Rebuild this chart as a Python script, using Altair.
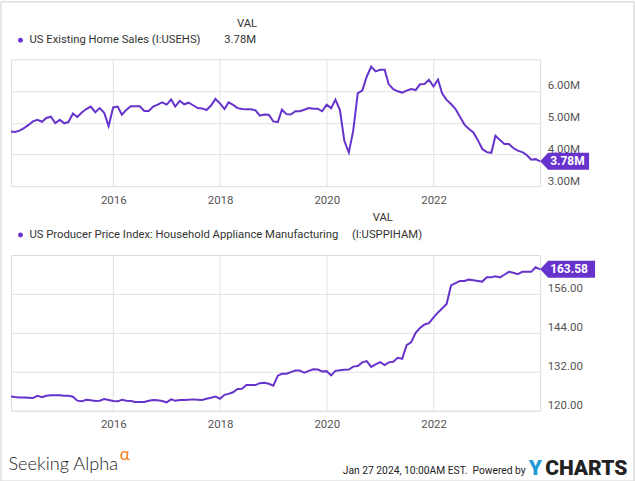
import altair as alt
import pandas as pd

# ---------------- data ----------------
years = list(range(2014, 2024))
months = []
for y in years:
    for m in range(1, 13):
        d = pd.Timestamp(year=y, month=m, day=1) + pd.offsets.MonthEnd(0)
        months.append(d.strftime("%Y-%m-%d"))

# US Existing Home Sales, millions (Jan 2014 .. Dec 2023)
home_sales = [
    4.72, 4.71, 4.75, 4.83, 4.93, 5.04, 5.09, 5.03, 5.15, 5.19, 4.99, 5.09,
    4.98, 5.02, 5.29, 5.18, 5.32, 5.43, 5.51, 5.33, 5.46, 5.31, 4.89, 5.48,
    5.51, 5.25, 5.41, 5.52, 5.52, 5.52, 5.37, 5.37, 5.51, 5.57, 5.64, 5.57,
    5.73, 5.51, 5.69, 5.58, 5.63, 5.55, 5.46, 5.45, 5.40, 5.54, 5.75, 5.61,
    5.43, 5.64, 5.56, 5.46, 5.43, 5.42, 5.42, 5.39, 5.22, 5.26, 5.25, 5.04,
    5.02, 5.41, 5.27, 5.26, 5.36, 5.36, 5.41, 5.46, 5.44, 5.44, 5.36, 5.57,
    5.46, 5.73, 5.40, 4.43, 4.06, 4.75, 5.93, 6.01, 6.45, 6.77, 6.62, 6.67,
    6.67, 6.21, 6.06, 5.99, 5.95, 6.01, 6.06, 6.03, 6.21, 6.22, 6.35, 6.14,
    6.36, 5.93, 5.72, 5.59, 5.43, 5.19, 4.94, 4.80, 4.69, 4.45, 4.17, 4.07,
    4.05, 4.59, 4.45, 4.33, 4.33, 4.20, 4.12, 4.07, 3.98, 3.83, 3.85, 3.78,
]

# US PPI: Household Appliance Manufacturing (Jan 2014 .. Dec 2023)
ppi = [
    124.4, 124.2, 124.1, 124.1, 124.0, 123.9, 124.6, 124.2, 124.6, 124.8, 124.8, 124.8,
    124.6, 124.6, 124.3, 123.1, 122.9, 123.4, 123.2, 123.0, 123.1, 123.6, 123.3, 123.0,
    122.9, 123.4, 123.1, 123.0, 122.7, 122.7, 122.7, 123.1, 123.3, 123.2, 123.0, 122.6,
    123.5, 123.1, 123.3, 123.3, 123.4, 123.5, 123.4, 123.3, 123.7, 124.0, 124.4, 123.7,
    124.9, 125.2, 125.7, 126.7, 126.8, 127.9, 127.9, 127.9, 128.5, 128.6, 128.3, 127.7,
    130.8, 131.4, 131.4, 131.9, 132.4, 132.4, 131.7, 132.3, 132.8, 132.7, 132.1, 132.2,
    130.9, 132.3, 132.5, 132.6, 132.7, 133.6, 133.8, 134.9, 135.3, 133.5, 134.3, 135.0,
    134.1, 134.9, 135.1, 136.3, 136.0, 140.2, 141.1, 144.0, 145.5, 146.6, 147.0, 148.7,
    150.3, 151.5, 152.9, 158.6, 159.3, 160.0, 160.0, 160.4, 160.2, 160.0, 159.8, 161.1,
    161.1, 161.4, 161.1, 161.9, 162.8, 162.5, 162.1, 162.8, 162.8, 162.8, 164.2, 163.58,
]

tick_years = [2016, 2018, 2020, 2022]
top_ticks = [3, 4, 5, 6]
top_domain = [3, 7]
bot_ticks = [120, 132, 144, 156]
bot_domain = [120, 168]

series1_name = "US Existing Home Sales (I:USEHS)"
series2_name = "US Producer Price Index: Household Appliance Manufacturing"
series2_code = "(I:USPPIHAM)"
stamp = "Jan 27 2024, 10:00AM EST.\u00a0\u00a0Powered by"

# ---------------- styling ----------------
PURPLE = "#6633cc"
GRID = "#e2e2e2"
LABEL = "#555555"
TEXT = "#333333"
FONT = "Roboto"
LEG = 11.3
W = 530
H1 = 127
H2 = 156

df1 = pd.DataFrame({"date": months, "value": home_sales})
df1["label"] = df1["value"].map(lambda v: f"{v:.2f}M")
df2 = pd.DataFrame({"date": months, "value": ppi})
df2["label"] = df2["value"].map(lambda v: f"{v:.2f}")
one = pd.DataFrame({"k": [0]})

badge1 = "M0,0 L8,-8.5 L49,-8.5 L49,8.5 L8,8.5 Z"
badge2 = "M0,0 L8,-8.5 L55,-8.5 L55,8.5 L8,8.5 Z"


def x_enc():
    return alt.X(
        "date:T",
        scale=alt.Scale(type="utc", nice=False),
        axis=alt.Axis(
            values=[alt.DateTime(year=y, month=1, date=1, utc=True) for y in tick_years],
            labelExpr="utcFormat(datum.value, '%Y')",
            grid=True, gridColor=GRID, ticks=False, tickSize=0, domain=False,
            labelPadding=8, labelColor=LABEL, labelFontSize=11.5, labelFont=FONT,
            title=None,
        ),
    )


def y_enc(domain, ticks, expr):
    return alt.Y(
        "value:Q",
        scale=alt.Scale(domain=domain, nice=False, zero=False),
        axis=alt.Axis(
            orient="right", values=ticks, labelExpr=expr,
            grid=True, gridColor=GRID, ticks=False, tickSize=0, domain=False,
            labelPadding=7, labelBaseline="alphabetic", labelOffset=-2,
            labelColor=LABEL, labelFontSize=11.5, labelFont=FONT, title=None,
        ),
    )


def txt(s, x, y, align="left", baseline="middle", size=LEG, color=TEXT,
        font=FONT, weight="normal"):
    return alt.Chart(one).mark_text(
        text=s, align=align, baseline=baseline, fontSize=size, color=color,
        font=font, fontWeight=weight,
    ).encode(x=alt.value(x), y=alt.value(y))


def dot(x, y):
    return alt.Chart(one).mark_point(
        filled=True, size=24, color=PURPLE, opacity=1, strokeWidth=0
    ).encode(x=alt.value(x), y=alt.value(y))


def panel(df, domain, ticks, expr, badge):
    last = df.iloc[[-1]]
    line = alt.Chart(df).mark_line(color=PURPLE, strokeWidth=2).encode(
        x=x_enc(), y=y_enc(domain, ticks, expr)
    )
    tag = alt.Chart(last).mark_point(
        shape=badge, size=4, filled=True, color=PURPLE, opacity=1, strokeWidth=0
    ).encode(x="date:T", y="value:Q")
    tag_text = alt.Chart(last).mark_text(
        align="left", baseline="middle", dx=10, color="white",
        fontWeight="bold", fontSize=12, font=FONT,
    ).encode(x="date:T", y="value:Q", text="label:N")
    return [line, tag, tag_text]


# ---------------- top panel ----------------
top_layers = panel(df1, top_domain, top_ticks,
                   "format(datum.value, '.2f') + 'M'", badge1)
top_layers += [
    txt("VAL", 246.5, -35, align="right"),
    dot(9.5, -19),
    txt(series1_name, 18.5, -19),
    txt(df1["label"].iloc[-1], 245.5, -19, align="right"),
    alt.Chart(one).mark_rect(fillOpacity=0, stroke="#cccccc", strokeWidth=1).encode(
        x=alt.value(-10), x2=alt.value(624), y=alt.value(-57.5), y2=alt.value(422.5)
    ),
]
top = alt.layer(*top_layers).properties(width=W, height=H1)

# ---------------- bottom panel ----------------
bot_layers = panel(df2, bot_domain, bot_ticks, "format(datum.value, '.2f')", badge2)
bot_layers += [
    txt("VAL", 382.5, -37, align="right"),
    dot(9.5, -20),
    txt(series2_name, 18.5, -20),
    txt(series2_code, 341.5, -20),
    # footer
    txt("Seeking Alpha", -2.5, 215, baseline="alphabetic", size=18.2, color="#222222",
        font="Lato", weight=300),
    txt("\u03b1", 109, 205, baseline="alphabetic", size=17, color="#f58220",
        font="Lato"),
    txt(stamp, 515.5, 219, align="right", baseline="alphabetic", size=10.3,
        color="#222222", font=FONT),
    txt("Y", 518.5, 220.5, baseline="alphabetic", size=21, color="#1f9ad6",
        weight=900),
    txt("CHARTS", 535, 220.5, baseline="alphabetic", size=21, color="#222222",
        weight=900),
]
bottom = alt.layer(*bot_layers).properties(width=W, height=H2)

chart = alt.vconcat(top, bottom, spacing=69, bounds="flush").properties(
    padding=0, background="white"
).configure_view(stroke="#cccccc", strokeWidth=1).configure(font=FONT)

chart.save("out.html", embed_options={"renderer": "svg", "actions": False})
